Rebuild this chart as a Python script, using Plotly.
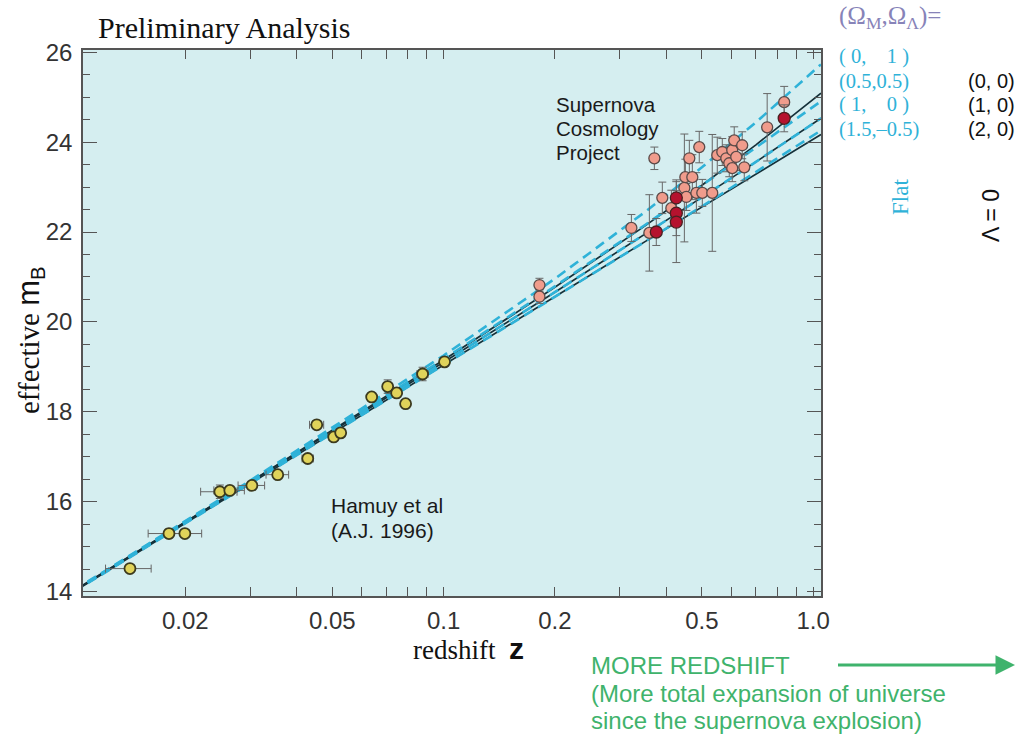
import plotly.graph_objects as go

# ---------------- data ----------------
# Hamuy et al (1996) low-redshift supernovae
hamuy_z = [0.01417, 0.01807, 0.01995, 0.02481, 0.02640, 0.03029, 0.03558, 0.04290, 0.04537,
           0.05043, 0.05267, 0.06388, 0.07058, 0.07464, 0.07892, 0.08773, 0.1006]
hamuy_m = [14.51, 15.29, 15.29, 16.22, 16.25, 16.36, 16.60, 16.96, 17.71,
           17.44, 17.53, 18.33, 18.56, 18.42, 18.18, 18.84, 19.11]
hamuy_ez = [0.0020, 0.0022, 0.0022, 0.0028, 0.0025, 0.0025, 0.0025, 0.0015, 0.0020,
            0.0015, 0.0015, 0.0015, 0.0015, 0.0015, 0.0015, 0.0030, 0.0015]
hamuy_em = [0.05, 0.10, 0.08, 0.15, 0.08, 0.08, 0.08, 0.08, 0.08,
            0.08, 0.08, 0.08, 0.15, 0.08, 0.08, 0.15, 0.08]

# Supernova Cosmology Project (salmon points)
scp_z = [0.1817, 0.1817, 0.3222, 0.3604, 0.3718, 0.3907, 0.4133, 0.4482, 0.4510, 0.4538,
         0.4623, 0.4710, 0.4830, 0.4918, 0.5012, 0.5333, 0.5502, 0.5677, 0.5820, 0.5929,
         0.6040, 0.6040, 0.6115, 0.6192, 0.6427, 0.6510, 0.7508, 0.8348]
scp_m = [20.82, 20.56, 22.09, 21.98, 23.64, 22.76, 22.53, 22.98, 23.22, 22.78,
         23.64, 23.22, 22.87, 23.89, 22.87, 22.87, 23.71, 23.78, 23.64, 23.53,
         23.82, 23.42, 24.04, 23.67, 23.93, 23.44, 24.33, 24.89]
scp_em = [0.15, 0.15, 0.30, 0.85, 0.25, 0.35, 0.40, 1.20, 0.40, 0.30,
          0.40, 0.50, 0.45, 0.35, 0.30, 1.30, 0.40, 0.30, 0.30, 0.30,
          0.30, 0.30, 0.30, 0.30, 0.30, 0.30, 0.75, 0.35]

# Supernova Cosmology Project (dark red points)
scp2_z = [0.3763, 0.4263, 0.4263, 0.4263, 0.8348]
scp2_m = [22.00, 22.76, 22.42, 22.22, 24.53]
scp2_em = [0.30, 0.40, 0.50, 0.90, 0.30]

# model curves
model_z = [0.0100, 0.03, 0.1, 0.2, 0.35, 0.5, 0.7, 1.05]
flat_0_1 = [14.03, 16.47, 19.25, 20.96, 22.44, 23.44, 24.44, 25.73]
flat_05_05 = [14.02, 16.45, 19.17, 20.79, 22.15, 23.03, 23.88, 24.91]
flat_1_0 = [14.01, 16.43, 19.10, 20.66, 21.94, 22.77, 23.56, 24.53]
flat_15_m05 = [14.00, 16.40, 19.03, 20.54, 21.78, 22.57, 23.33, 24.26]
open_0_0 = [14.02, 16.44, 19.15, 20.77, 22.13, 23.04, 23.94, 25.09]
open_1_0 = [14.01, 16.43, 19.10, 20.66, 21.94, 22.77, 23.56, 24.53]
open_2_0 = [14.00, 16.41, 19.04, 20.56, 21.78, 22.56, 23.29, 24.17]

flat_labels = ["(\u00a00,\u00a0\u00a0\u00a0\u00a01\u00a0)", "(0.5,0.5)",
               "(\u00a01,\u00a0\u00a0\u00a0\u00a00\u00a0)", "(1.5,\u20130.5)"]
open_labels = ["(0, 0)", "(1, 0)", "(2, 0)"]

x_tickvals = [0.02, 0.05, 0.1, 0.2, 0.5, 1.0]
x_ticktext = ["0.02", "0.05", "0.1", "0.2", "0.5", "1.0"]
x_minorvals = [0.03, 0.04, 0.06, 0.07, 0.08, 0.09, 0.3, 0.4, 0.6, 0.7, 0.8, 0.9]
y_tickvals = [14, 16, 18, 20, 22, 24, 26]

# ---------------- layout helpers ----------------
W, H = 1032, 740
L, R, T, B = 83, 821, 50, 596


def px(x):
    return (x - L) / (R - L)


def py(y):
    return (B - y) / (B - T)


SERIF = "Liberation Serif, Times New Roman, serif"
SANS = "Liberation Sans, Arial, sans-serif"
CYAN = "#2fb2d8"
GREEN = "#3fb36c"

fig = go.Figure()

solid = dict(color="#15313a", width=1.7)
dashed = dict(color=CYAN, width=2.6, dash="10px,6px")

for name, ys in zip(open_labels, [open_0_0, open_1_0, open_2_0]):
    fig.add_trace(go.Scatter(x=model_z, y=ys, mode="lines", line=solid, name=name,
                             hoverinfo="skip"))
for name, ys in zip(flat_labels, [flat_0_1, flat_05_05, flat_1_0, flat_15_m05]):
    fig.add_trace(go.Scatter(x=model_z, y=ys, mode="lines", line=dashed, name=name,
                             hoverinfo="skip"))

ebar = dict(type="data", thickness=1, width=4, color="#666666")

fig.add_trace(go.Scatter(
    x=hamuy_z, y=hamuy_m, mode="markers", name="Hamuy",
    error_x=dict(array=hamuy_ez, **ebar),
    error_y=dict(array=hamuy_em, **ebar),
    marker=dict(size=11, color="#e0d35a", line=dict(color="#3c3a1e", width=1.8))))

fig.add_trace(go.Scatter(
    x=scp_z, y=scp_m, mode="markers", name="SCP",
    error_y=dict(array=scp_em, **ebar),
    marker=dict(size=11, color="#f09c8c", line=dict(color="#5a4a48", width=1.3))))

fig.add_trace(go.Scatter(
    x=scp2_z, y=scp2_m, mode="markers", name="SCP2",
    error_y=dict(array=scp2_em, **ebar),
    marker=dict(size=12, color="#b5122e", line=dict(color="#4a2020", width=1.3))))

ann = []


def text(x, y, s, size, color="#111", family=SANS, xanchor="left", angle=0):
    ann.append(dict(x=px(x), y=py(y), xref="paper", yref="paper", text=s, showarrow=False,
                    xanchor=xanchor, yanchor="middle", textangle=angle, align="left",
                    font=dict(size=size, color=color, family=family)))


text(96, 28, "Preliminary Analysis", 30, "#111", SERIF)
text(554, 104, "Supernova", 20.5, "#1a1a1a")
text(554, 128, "Cosmology", 20.5, "#1a1a1a")
text(554, 152, "Project", 20.5, "#1a1a1a")
text(329, 505, "Hamuy et al", 21, "#1a1a1a")
text(329, 530, "(A.J. 1996)", 21, "#1a1a1a")

# axis titles
text(30, 340,
     "effective <span style='font-family:Liberation Sans;font-size:31px'>m</span>"
     "<sub><span style='font-family:Liberation Sans'>B</span></sub>",
     29, "#111", SERIF, "center", -90)
text(468, 648,
     "redshift  <span style='font-family:Liberation Sans;font-size:30px'><b>z</b></span>",
     27, "#111", SERIF, "center")

# legend block (tightly stacked rows)
text(837, 18, "(Ω<sub>M</sub>,Ω<sub>Λ</sub>)=", 25, "#8783b8", SERIF)
for i, s in enumerate(flat_labels):
    text(837, 57 + 24 * i, s, 20.5, CYAN, SERIF)
for i, s in enumerate(open_labels):
    text(966, 81 + 24 * i, s, 20, "#111", SANS)
text(900, 197, "Flat", 23, CYAN, SERIF, "center", -90)
text(991, 216, "Λ = 0", 23, "#111", SANS, "center", -90)

# green note
text(589, 665, "MORE REDSHIFT", 24, GREEN)
text(589, 693, "(More total expansion of universe", 24, GREEN)
text(589, 720, "since the supernova explosion)", 24, GREEN)
ann.append(dict(x=px(1015), y=py(665), xref="paper", yref="paper", ax=-180, ay=0,
                axref="pixel", ayref="pixel", text=" ", showarrow=True, arrowhead=2,
                arrowsize=1.3, arrowwidth=3, arrowcolor=GREEN))

axis_common = dict(showline=True, linecolor="#555", linewidth=1.5, mirror="allticks",
                   ticks="inside", tickcolor="#555", showgrid=False, zeroline=False,
                   tickfont=dict(family=SANS, size=24, color="#333"))

fig.update_layout(
    width=W, height=H,
    margin=dict(l=L, r=W - R, t=T, b=H - B),
    paper_bgcolor="white", plot_bgcolor="#d5eef0",
    showlegend=False,
    annotations=ann,
    xaxis=dict(type="log", range=[-1.9757, 0.0212], tickmode="array",
               tickvals=x_tickvals, ticktext=x_ticktext, ticklen=9, tickwidth=1.2,
               ticklabelstandoff=2,
               minor=dict(tickmode="array", tickvals=x_minorvals, ticklen=9,
                          tickwidth=1.2, tickcolor="#555", ticks="inside"),
               **axis_common),
    yaxis=dict(range=[13.9, 26.05], tickmode="array", tickvals=y_tickvals,
               ticklen=14, tickwidth=1.2, ticklabelstandoff=4,
               minor=dict(dtick=0.5, tick0=14, ticklen=7, tickcolor="#555", ticks="inside"),
               **axis_common),
)

fig.write_html("out.html")
